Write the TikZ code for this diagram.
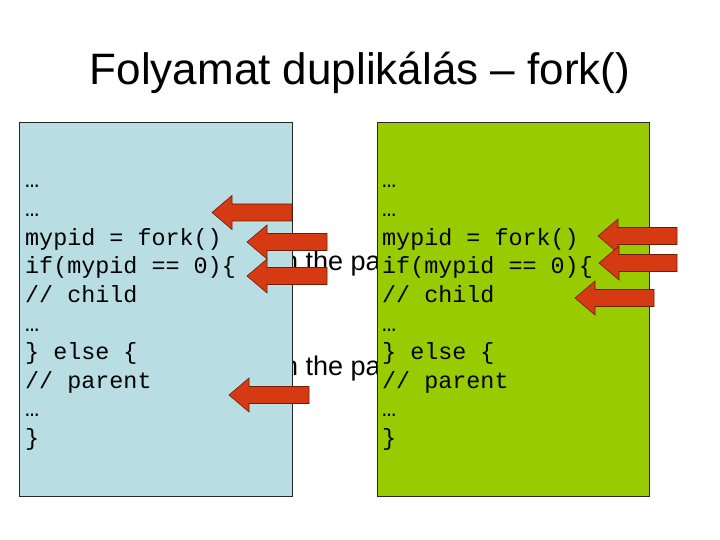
\documentclass[tikz,border=0pt]{standalone}
\usepackage{fontspec}
\setmainfont{Liberation Sans}
\newfontfamily\codefont{Liberation Mono}
\definecolor{boxblue}{RGB}{184,222,228}
\definecolor{boxgreen}{RGB}{153,204,0}
\definecolor{arrowred}{RGB}{214,58,18}
\definecolor{arrowline}{RGB}{110,30,5}
\tikzset{
  titletext/.style={inner sep=0pt, font=\fontsize{44}{50}\selectfont},
  hiddentext/.style={inner sep=0pt, anchor=base west, font=\fontsize{27}{32}\selectfont},
  codeline/.style={inner sep=0pt, anchor=base west, font=\codefont\fontsize{23.4}{28}\selectfont},
  procbox/.style={draw=black!85, line width=0.8pt},
  blockarrow/.style={fill=arrowred, draw=arrowline, line width=0.6pt, line join=miter}
}
% \barrow{tip x}{tail x}{center y}{name}
\newcommand{\barrow}[4]{%
  \coordinate (#4tip) at (#1,#3);
  \coordinate (#4tail) at (#2,#3);
  \draw[blockarrow] (#4tip) -- ++(20,-17) -- ++(0,8.5) -- (#2,#3-8.5) -- (#2,#3+8.5) -- (#1+20,#3+8.5) -- ++(0,8.5) -- cycle;
}
\begin{document}
\begin{tikzpicture}[x=1pt,y=-1pt]
\useasboundingbox (0,0) rectangle (720,540);
\fill[white] (0,0) rectangle (720,540);
% title
\node[titletext, anchor=base] (title) at (360,85) {Folyamat duplikálás – fork()};
% partly hidden text behind the boxes
\node[hiddentext] (h1) at (283,270) {n the pa};
\node[hiddentext] (h2) at (283,375) {n the pa};
% process boxes
\draw[procbox, fill=boxblue] (19,122) rectangle (292,496);
\draw[procbox, fill=boxgreen] (377,122) rectangle (649,496);
% code
\foreach \t [count=\i from 0] in {…,…,{mypid = fork()},{if(mypid == 0)\{},{// child},…,{\} else \{},{// parent},…,\}}{
  \node[codeline] (L\i) at (25,188+28.6*\i) {\t};
  \node[codeline] (R\i) at (382,188+28.6*\i) {\t};
}
% arrows
\barrow{212}{292}{212.5}{a1}
\barrow{247}{327}{242}{a2}
\barrow{247}{327}{276}{a3}
\barrow{229}{309}{395}{a4}
\barrow{598}{677}{236}{b1}
\barrow{599}{677}{263}{b2}
\barrow{575}{654}{298}{b3}
\end{tikzpicture}
\end{document}
